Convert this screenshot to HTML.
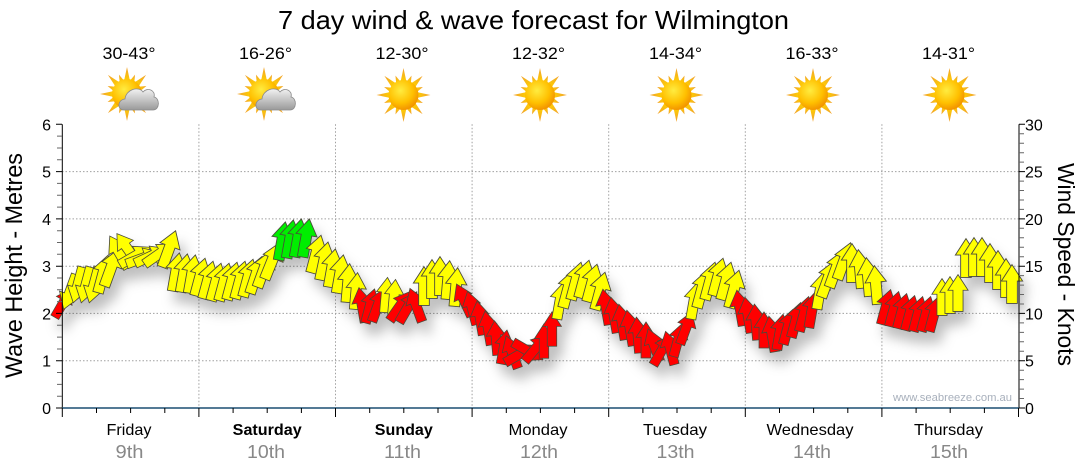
<!DOCTYPE html>
<html>
<head>
<meta charset="utf-8">
<style>
  html,body{margin:0;padding:0;background:#fff;}
  svg{display:block;font-family:"Liberation Sans",Arial,sans-serif;}
</style>
</head>
<body>
<svg width="1080" height="475" viewBox="0 0 1080 475" xmlns="http://www.w3.org/2000/svg">
  <defs>
    <radialGradient id="sunG" cx="0.4" cy="0.35" r="0.7">
      <stop offset="0" stop-color="#ffec40"/>
      <stop offset="0.6" stop-color="#ffc000"/>
      <stop offset="1" stop-color="#f08c00"/>
    </radialGradient>
    <linearGradient id="rayG" x1="0" y1="0" x2="0" y2="1">
      <stop offset="0" stop-color="#f0a030"/>
      <stop offset="1" stop-color="#ffd000"/>
    </linearGradient>
    <linearGradient id="cloudG" x1="0" y1="0" x2="0" y2="1">
      <stop offset="0" stop-color="#f2f2f2"/>
      <stop offset="1" stop-color="#9a9a9a"/>
    </linearGradient>
    <g id="sun">
      <g fill="url(#rayG)">
        <polygon points="-3,-13 0,-27 3,-13"/>
        <polygon points="-3,-13 0,-27 3,-13" transform="rotate(45)"/>
        <polygon points="-3,-13 0,-27 3,-13" transform="rotate(90)"/>
        <polygon points="-3,-13 0,-27 3,-13" transform="rotate(135)"/>
        <polygon points="-3,-13 0,-27 3,-13" transform="rotate(180)"/>
        <polygon points="-3,-13 0,-27 3,-13" transform="rotate(225)"/>
        <polygon points="-3,-13 0,-27 3,-13" transform="rotate(270)"/>
        <polygon points="-3,-13 0,-27 3,-13" transform="rotate(315)"/>
        <polygon points="-2.5,-13 0,-21 2.5,-13" transform="rotate(22.5)"/>
        <polygon points="-2.5,-13 0,-21 2.5,-13" transform="rotate(67.5)"/>
        <polygon points="-2.5,-13 0,-21 2.5,-13" transform="rotate(112.5)"/>
        <polygon points="-2.5,-13 0,-21 2.5,-13" transform="rotate(157.5)"/>
        <polygon points="-2.5,-13 0,-21 2.5,-13" transform="rotate(202.5)"/>
        <polygon points="-2.5,-13 0,-21 2.5,-13" transform="rotate(247.5)"/>
        <polygon points="-2.5,-13 0,-21 2.5,-13" transform="rotate(292.5)"/>
        <polygon points="-2.5,-13 0,-21 2.5,-13" transform="rotate(337.5)"/>
      </g>
      <circle r="15" fill="url(#sunG)"/>
    </g>
    <g id="cloudy">
      <use href="#sun" transform="translate(-3,-1)"/>
      <path d="M-6,15 C-13,15 -13,5 -5,4 C-4,-6 9,-9 13,-3 C17,-8 26,-5 24,2 C30,3 30,15 23,15 Z" fill="url(#cloudG)" stroke="#8a8a8a" stroke-width="0.8"/>
    </g>
    <path id="ar" d="M0,-20 L11,-3 L5.5,-3 L5.5,20 L-5.5,20 L-5.5,-3 L-11,-3 Z" stroke="#4a4a3a" stroke-width="0.9" stroke-linejoin="miter"/>
    <filter id="sh" x="-10%" y="-30%" width="120%" height="180%">
      <feDropShadow dx="6" dy="11" stdDeviation="6" flood-color="#000" flood-opacity="0.25"/>
    </filter>
  </defs>

  <!-- Title -->
  <text x="278" y="29" font-size="26" fill="#000" textLength="511" lengthAdjust="spacingAndGlyphs">7 day wind &amp; wave forecast for Wilmington</text>

  <!-- Temperatures -->
  <g font-size="17" fill="#000" text-anchor="middle">
    <text x="129" y="59" textLength="53" lengthAdjust="spacingAndGlyphs">30-43°</text>
    <text x="265.5" y="59" textLength="53" lengthAdjust="spacingAndGlyphs">16-26°</text>
    <text x="402" y="59" textLength="53" lengthAdjust="spacingAndGlyphs">12-30°</text>
    <text x="538.5" y="59" textLength="53" lengthAdjust="spacingAndGlyphs">12-32°</text>
    <text x="675.5" y="59" textLength="53" lengthAdjust="spacingAndGlyphs">14-34°</text>
    <text x="812" y="59" textLength="53" lengthAdjust="spacingAndGlyphs">16-33°</text>
    <text x="948.5" y="59" textLength="53" lengthAdjust="spacingAndGlyphs">14-31°</text>
  </g>

  <!-- Weather icons -->
  <use href="#cloudy" transform="translate(130,95)"/>
  <use href="#cloudy" transform="translate(267,95)"/>
  <use href="#sun" transform="translate(403.5,95)"/>
  <use href="#sun" transform="translate(540,95)"/>
  <use href="#sun" transform="translate(676.5,95)"/>
  <use href="#sun" transform="translate(813,95)"/>
  <use href="#sun" transform="translate(949.5,95)"/>

  <!-- Grid -->
  <g stroke="#a0a0a0" stroke-width="1" stroke-dasharray="1.5,2">
    <line x1="62" y1="360.7" x2="1019" y2="360.7"/>
    <line x1="62" y1="313.4" x2="1019" y2="313.4"/>
    <line x1="62" y1="266.2" x2="1019" y2="266.2"/>
    <line x1="62" y1="218.9" x2="1019" y2="218.9"/>
    <line x1="62" y1="171.6" x2="1019" y2="171.6"/>
    <line x1="198.9" y1="124.3" x2="198.9" y2="408"/>
    <line x1="335.5" y1="124.3" x2="335.5" y2="408"/>
    <line x1="472.1" y1="124.3" x2="472.1" y2="408"/>
    <line x1="608.7" y1="124.3" x2="608.7" y2="408"/>
    <line x1="745.3" y1="124.3" x2="745.3" y2="408"/>
    <line x1="881.9" y1="124.3" x2="881.9" y2="408"/>
  </g>

  <!-- Watermark -->
  <text x="1012" y="401" font-size="11" fill="#a8b0bc" text-anchor="end" textLength="119" lengthAdjust="spacingAndGlyphs">www.seabreeze.com.au</text>

  <!-- Arrows -->
  <g filter="url(#sh)">
    <!-- Friday -->
    <use href="#ar" fill="#ff0000" transform="translate(63,303) rotate(30) scale(0.82)"/>
    <use href="#ar" fill="#ffff00" transform="translate(70,292) rotate(200) scale(0.92)"/>
    <use href="#ar" fill="#ffff00" transform="translate(78,285) rotate(195) scale(0.92)"/>
    <use href="#ar" fill="#ffff00" transform="translate(86,285) rotate(195) scale(0.92)"/>
    <use href="#ar" fill="#ffff00" transform="translate(94,285) rotate(195) scale(0.92)"/>
    <use href="#ar" fill="#ffff00" transform="translate(103,274) rotate(15) scale(0.97)"/>
    <use href="#ar" fill="#ffff00" transform="translate(111,268) rotate(20) scale(0.97)"/>
    <use href="#ar" fill="#ffff00" transform="translate(119,252) rotate(-30) scale(0.92)"/>
    <use href="#ar" fill="#ffff00" transform="translate(127,248) rotate(-35) scale(0.88)"/>
    <use href="#ar" fill="#ffff00" transform="translate(135,256) rotate(60) scale(0.88)"/>
    <use href="#ar" fill="#ffff00" transform="translate(143,258) rotate(70) scale(0.88)"/>
    <use href="#ar" fill="#ffff00" transform="translate(151,256) rotate(65) scale(0.88)"/>
    <use href="#ar" fill="#ffff00" transform="translate(159,254) rotate(55) scale(0.88)"/>
    <use href="#ar" fill="#ffff00" transform="translate(169,249) rotate(20) scale(0.97)"/>
    <use href="#ar" fill="#ffff00" transform="translate(176,272) rotate(10) scale(0.97)"/>
    <use href="#ar" fill="#ffff00" transform="translate(184,273) rotate(10) scale(0.97)"/>
    <use href="#ar" fill="#ffff00" transform="translate(192,274) rotate(10) scale(0.97)"/>
    <!-- Saturday -->
    <use href="#ar" fill="#ffff00" transform="translate(200,277) rotate(15) scale(0.97)"/>
    <use href="#ar" fill="#ffff00" transform="translate(208,280) rotate(15) scale(0.97)"/>
    <use href="#ar" fill="#ffff00" transform="translate(216,282) rotate(15) scale(0.97)"/>
    <use href="#ar" fill="#ffff00" transform="translate(224,282) rotate(15) scale(0.97)"/>
    <use href="#ar" fill="#ffff00" transform="translate(232,281) rotate(15) scale(0.97)"/>
    <use href="#ar" fill="#ffff00" transform="translate(240,280) rotate(15) scale(0.97)"/>
    <use href="#ar" fill="#ffff00" transform="translate(248,278) rotate(15) scale(0.97)"/>
    <use href="#ar" fill="#ffff00" transform="translate(256,275) rotate(18) scale(0.97)"/>
    <use href="#ar" fill="#ffff00" transform="translate(264,269) rotate(20) scale(0.97)"/>
    <use href="#ar" fill="#ffff00" transform="translate(272,261) rotate(22) scale(0.97)"/>
    <use href="#ar" fill="#00ee00" transform="translate(282,241) rotate(10) scale(0.97)"/>
    <use href="#ar" fill="#00ee00" transform="translate(290,239) rotate(10) scale(0.97)"/>
    <use href="#ar" fill="#00ee00" transform="translate(298,238) rotate(10) scale(0.97)"/>
    <use href="#ar" fill="#00ee00" transform="translate(306,238) rotate(10) scale(0.97)"/>
    <use href="#ar" fill="#ffff00" transform="translate(316,254) rotate(15) scale(0.97)"/>
    <use href="#ar" fill="#ffff00" transform="translate(324,261) rotate(12) scale(0.97)"/>
    <use href="#ar" fill="#ffff00" transform="translate(332,268) rotate(10) scale(0.97)"/>
    <use href="#ar" fill="#ffff00" transform="translate(340,274) rotate(10) scale(0.97)"/>
    <!-- Sunday -->
    <use href="#ar" fill="#ffff00" transform="translate(348,283) rotate(5) scale(0.97)"/>
    <use href="#ar" fill="#ffff00" transform="translate(356,291) rotate(5) scale(0.92)"/>
    <use href="#ar" fill="#ff0000" transform="translate(362,305) rotate(-10) scale(0.88)"/>
    <use href="#ar" fill="#ff0000" transform="translate(370,306) rotate(15) scale(0.88)"/>
    <use href="#ar" fill="#ff0000" transform="translate(378,305) rotate(20) scale(0.88)"/>
    <use href="#ar" fill="#ffff00" transform="translate(386,295) rotate(5) scale(0.88)"/>
    <use href="#ar" fill="#ffff00" transform="translate(394,297) rotate(5) scale(0.88)"/>
    <use href="#ar" fill="#ff0000" transform="translate(400,306) rotate(35) scale(0.88)"/>
    <use href="#ar" fill="#ff0000" transform="translate(408,307) rotate(30) scale(0.88)"/>
    <use href="#ar" fill="#ff0000" transform="translate(416,305) rotate(-20) scale(0.88)"/>
    <use href="#ar" fill="#ffff00" transform="translate(424,286) rotate(0) scale(0.97)"/>
    <use href="#ar" fill="#ffff00" transform="translate(432,279) rotate(0) scale(0.97)"/>
    <use href="#ar" fill="#ffff00" transform="translate(440,276) rotate(0) scale(0.97)"/>
    <use href="#ar" fill="#ffff00" transform="translate(448,280) rotate(5) scale(0.97)"/>
    <use href="#ar" fill="#ffff00" transform="translate(456,287) rotate(5) scale(0.97)"/>
    <use href="#ar" fill="#ff0000" transform="translate(464,300) rotate(-25) scale(0.88)"/>
    <!-- Monday -->
    <use href="#ar" fill="#ff0000" transform="translate(472,308) rotate(-15) scale(0.86)"/>
    <use href="#ar" fill="#ff0000" transform="translate(480,318) rotate(-10) scale(0.86)"/>
    <use href="#ar" fill="#ff0000" transform="translate(488,328) rotate(-10) scale(0.86)"/>
    <use href="#ar" fill="#ff0000" transform="translate(496,338) rotate(-5) scale(0.86)"/>
    <use href="#ar" fill="#ff0000" transform="translate(504,347) rotate(10) scale(0.86)"/>
    <use href="#ar" fill="#ff0000" transform="translate(512,352) rotate(-20) scale(0.86)"/>
    <use href="#ar" fill="#ff0000" transform="translate(520,354) rotate(60) scale(0.86)"/>
    <use href="#ar" fill="#ff0000" transform="translate(528,351) rotate(120) scale(0.86)"/>
    <use href="#ar" fill="#ff0000" transform="translate(536,348) rotate(40) scale(0.86)"/>
    <use href="#ar" fill="#ff0000" transform="translate(544,341) rotate(0) scale(0.86)"/>
    <use href="#ar" fill="#ff0000" transform="translate(552,329) rotate(0) scale(0.86)"/>
    <use href="#ar" fill="#ffff00" transform="translate(560,301) rotate(10) scale(0.92)"/>
    <use href="#ar" fill="#ffff00" transform="translate(568,289) rotate(15) scale(0.97)"/>
    <use href="#ar" fill="#ffff00" transform="translate(576,281) rotate(15) scale(0.97)"/>
    <use href="#ar" fill="#ffff00" transform="translate(584,279) rotate(15) scale(0.97)"/>
    <use href="#ar" fill="#ffff00" transform="translate(592,283) rotate(15) scale(0.97)"/>
    <use href="#ar" fill="#ffff00" transform="translate(600,291) rotate(15) scale(0.97)"/>
    <!-- Tuesday -->
    <use href="#ar" fill="#ff0000" transform="translate(606,307) rotate(-10) scale(0.9)"/>
    <use href="#ar" fill="#ff0000" transform="translate(614,315) rotate(-10) scale(0.9)"/>
    <use href="#ar" fill="#ff0000" transform="translate(622,322) rotate(-10) scale(0.9)"/>
    <use href="#ar" fill="#ff0000" transform="translate(630,328) rotate(-10) scale(0.9)"/>
    <use href="#ar" fill="#ff0000" transform="translate(638,335) rotate(-5) scale(0.9)"/>
    <use href="#ar" fill="#ff0000" transform="translate(646,340) rotate(0) scale(0.9)"/>
    <use href="#ar" fill="#ff0000" transform="translate(654,345) rotate(-20) scale(0.86)"/>
    <use href="#ar" fill="#ff0000" transform="translate(662,350) rotate(30) scale(0.86)"/>
    <use href="#ar" fill="#ff0000" transform="translate(670,348) rotate(-15) scale(0.86)"/>
    <use href="#ar" fill="#ff0000" transform="translate(678,340) rotate(15) scale(0.86)"/>
    <use href="#ar" fill="#ff0000" transform="translate(686,328) rotate(20) scale(0.86)"/>
    <use href="#ar" fill="#ffff00" transform="translate(694,301) rotate(10) scale(0.92)"/>
    <use href="#ar" fill="#ffff00" transform="translate(702,289) rotate(15) scale(0.97)"/>
    <use href="#ar" fill="#ffff00" transform="translate(710,281) rotate(15) scale(0.97)"/>
    <use href="#ar" fill="#ffff00" transform="translate(718,277) rotate(15) scale(0.97)"/>
    <use href="#ar" fill="#ffff00" transform="translate(726,281) rotate(15) scale(0.97)"/>
    <use href="#ar" fill="#ffff00" transform="translate(734,289) rotate(15) scale(0.97)"/>
    <!-- Wednesday -->
    <use href="#ar" fill="#ff0000" transform="translate(740,308) rotate(-10) scale(0.9)"/>
    <use href="#ar" fill="#ff0000" transform="translate(748,315) rotate(-10) scale(0.9)"/>
    <use href="#ar" fill="#ff0000" transform="translate(756,322) rotate(-5) scale(0.9)"/>
    <use href="#ar" fill="#ff0000" transform="translate(764,330) rotate(0) scale(0.9)"/>
    <use href="#ar" fill="#ff0000" transform="translate(772,334) rotate(-10) scale(0.9)"/>
    <use href="#ar" fill="#ff0000" transform="translate(780,332) rotate(10) scale(0.9)"/>
    <use href="#ar" fill="#ff0000" transform="translate(788,327) rotate(15) scale(0.9)"/>
    <use href="#ar" fill="#ff0000" transform="translate(796,320) rotate(15) scale(0.9)"/>
    <use href="#ar" fill="#ff0000" transform="translate(804,314) rotate(15) scale(0.9)"/>
    <use href="#ar" fill="#ff0000" transform="translate(812,310) rotate(10) scale(0.9)"/>
    <use href="#ar" fill="#ffff00" transform="translate(820,291) rotate(10) scale(0.92)"/>
    <use href="#ar" fill="#ffff00" transform="translate(828,279) rotate(20) scale(0.97)"/>
    <use href="#ar" fill="#ffff00" transform="translate(836,269) rotate(20) scale(0.97)"/>
    <use href="#ar" fill="#ffff00" transform="translate(844,261) rotate(20) scale(0.97)"/>
    <use href="#ar" fill="#ffff00" transform="translate(852,263) rotate(0) scale(0.97)"/>
    <use href="#ar" fill="#ffff00" transform="translate(860,269) rotate(-5) scale(0.97)"/>
    <use href="#ar" fill="#ffff00" transform="translate(868,277) rotate(-5) scale(0.97)"/>
    <use href="#ar" fill="#ffff00" transform="translate(876,285) rotate(-5) scale(0.97)"/>
    <!-- Thursday -->
    <use href="#ar" fill="#ff0000" transform="translate(886,307) rotate(15) scale(0.9)"/>
    <use href="#ar" fill="#ff0000" transform="translate(894,309) rotate(15) scale(0.9)"/>
    <use href="#ar" fill="#ff0000" transform="translate(902,311) rotate(15) scale(0.9)"/>
    <use href="#ar" fill="#ff0000" transform="translate(910,313) rotate(15) scale(0.9)"/>
    <use href="#ar" fill="#ff0000" transform="translate(918,314) rotate(15) scale(0.9)"/>
    <use href="#ar" fill="#ff0000" transform="translate(926,314) rotate(15) scale(0.9)"/>
    <use href="#ar" fill="#ff0000" transform="translate(934,314) rotate(15) scale(0.9)"/>
    <use href="#ar" fill="#ffff00" transform="translate(942,297) rotate(0) scale(0.92)"/>
    <use href="#ar" fill="#ffff00" transform="translate(950,295) rotate(0) scale(0.92)"/>
    <use href="#ar" fill="#ffff00" transform="translate(958,293) rotate(0) scale(0.92)"/>
    <use href="#ar" fill="#ffff00" transform="translate(966,258) rotate(0) scale(0.97)"/>
    <use href="#ar" fill="#ffff00" transform="translate(974,257) rotate(0) scale(0.97)"/>
    <use href="#ar" fill="#ffff00" transform="translate(982,257) rotate(0) scale(0.97)"/>
    <use href="#ar" fill="#ffff00" transform="translate(990,263) rotate(0) scale(0.97)"/>
    <use href="#ar" fill="#ffff00" transform="translate(998,270) rotate(0) scale(0.97)"/>
    <use href="#ar" fill="#ffff00" transform="translate(1006,278) rotate(0) scale(0.97)"/>
    <use href="#ar" fill="#ffff00" transform="translate(1012,284) rotate(0) scale(0.97)"/>
  </g>

  <!-- Axes -->
  <line x1="62.3" y1="124.3" x2="62.3" y2="408" stroke="#000" stroke-width="1"/>
  <line x1="1019" y1="124.3" x2="1019" y2="408" stroke="#000" stroke-width="1"/>
  <line x1="62" y1="408" x2="1019" y2="408" stroke="#1b4f72" stroke-width="1.5"/>

  <!-- Left minor ticks -->
  <path stroke="#666" stroke-width="1" d="M57,396.2H62M57,384.4H62M57,372.5H62M57,349H62M57,337.1H62M57,325.3H62M57,301.6H62M57,289.8H62M57,278H62M57,254.3H62M57,242.5H62M57,230.7H62M57,207.1H62M57,195.2H62M57,183.4H62M57,159.8H62M57,148H62M57,136.1H62"/>
  <!-- Left major ticks -->
  <path stroke="#000" stroke-width="1" d="M56,408H62M56,360.7H62M56,313.4H62M56,266.2H62M56,218.9H62M56,171.6H62M56,124.3H62"/>

  <!-- Right minor ticks -->
  <path stroke="#666" stroke-width="1" d="M1019,398.5H1024M1019,389.1H1024M1019,379.6H1024M1019,370.2H1024M1019,351.3H1024M1019,341.8H1024M1019,332.4H1024M1019,322.9H1024M1019,304H1024M1019,294.5H1024M1019,285.1H1024M1019,275.6H1024M1019,256.7H1024M1019,247.3H1024M1019,237.8H1024M1019,228.3H1024M1019,209.4H1024M1019,200H1024M1019,190.5H1024M1019,181.1H1024M1019,162.1H1024M1019,152.7H1024M1019,143.2H1024M1019,133.8H1024"/>
  <!-- Right major ticks -->
  <path stroke="#000" stroke-width="1" d="M1019,408H1025M1019,360.7H1025M1019,313.4H1025M1019,266.2H1025M1019,218.9H1025M1019,171.6H1025M1019,124.3H1025"/>

  <!-- Bottom ticks -->
  <path stroke="#000" stroke-width="1" d="M62.3,408V417M198.9,408V417M335.5,408V417M472.1,408V417M608.7,408V417M745.3,408V417M881.9,408V417M1018.5,408V417"/>
  <path stroke="#000" stroke-width="1" d="M96.5,408V413M130.6,408V413M164.8,408V413M233.1,408V413M267.2,408V413M301.4,408V413M369.7,408V413M403.8,408V413M438,408V413M506.3,408V413M540.4,408V413M574.6,408V413M642.9,408V413M677,408V413M711.2,408V413M779.5,408V413M813.6,408V413M847.8,408V413M916.1,408V413M950.2,408V413M984.4,408V413"/>

  <!-- Left axis labels -->
  <g font-size="16" fill="#000" text-anchor="end">
    <text x="51" y="414">0</text>
    <text x="51" y="366.7">1</text>
    <text x="51" y="319.4">2</text>
    <text x="51" y="272.2">3</text>
    <text x="51" y="224.9">4</text>
    <text x="51" y="177.6">5</text>
    <text x="51" y="130.3">6</text>
  </g>
  <!-- Right axis labels -->
  <g font-size="16" fill="#000" text-anchor="start">
    <text x="1025" y="414">0</text>
    <text x="1025" y="366.7">5</text>
    <text x="1025" y="319.4">10</text>
    <text x="1025" y="272.2">15</text>
    <text x="1025" y="224.9">20</text>
    <text x="1025" y="177.6">25</text>
    <text x="1025" y="130.3">30</text>
  </g>

  <!-- Axis titles -->
  <text transform="translate(22,265.5) rotate(-90)" font-size="24" fill="#000" text-anchor="middle" textLength="225" lengthAdjust="spacingAndGlyphs">Wave Height - Metres</text>
  <text transform="translate(1058,264.5) rotate(90)" font-size="23" fill="#000" text-anchor="middle" textLength="203" lengthAdjust="spacingAndGlyphs">Wind Speed - Knots</text>

  <!-- Day labels -->
  <g font-size="16" fill="#000" text-anchor="middle">
    <text x="129" y="435" textLength="45" lengthAdjust="spacingAndGlyphs">Friday</text>
    <text x="267.2" y="435" font-weight="bold" textLength="69" lengthAdjust="spacingAndGlyphs">Saturday</text>
    <text x="403.8" y="435" font-weight="bold" textLength="58" lengthAdjust="spacingAndGlyphs">Sunday</text>
    <text x="538" y="435" textLength="59" lengthAdjust="spacingAndGlyphs">Monday</text>
    <text x="675" y="435" textLength="64" lengthAdjust="spacingAndGlyphs">Tuesday</text>
    <text x="810" y="435" textLength="87" lengthAdjust="spacingAndGlyphs">Wednesday</text>
    <text x="948.5" y="435" textLength="69" lengthAdjust="spacingAndGlyphs">Thursday</text>
  </g>
  <g font-size="18" fill="#888" text-anchor="middle">
    <text x="129.5" y="458" textLength="28" lengthAdjust="spacingAndGlyphs">9th</text>
    <text x="266" y="458" textLength="38" lengthAdjust="spacingAndGlyphs">10th</text>
    <text x="402.5" y="458" textLength="37" lengthAdjust="spacingAndGlyphs">11th</text>
    <text x="539" y="458" textLength="38" lengthAdjust="spacingAndGlyphs">12th</text>
    <text x="675.5" y="458" textLength="38" lengthAdjust="spacingAndGlyphs">13th</text>
    <text x="812" y="458" textLength="38" lengthAdjust="spacingAndGlyphs">14th</text>
    <text x="949" y="458" textLength="38" lengthAdjust="spacingAndGlyphs">15th</text>
  </g>
</svg>
</body>
</html>
